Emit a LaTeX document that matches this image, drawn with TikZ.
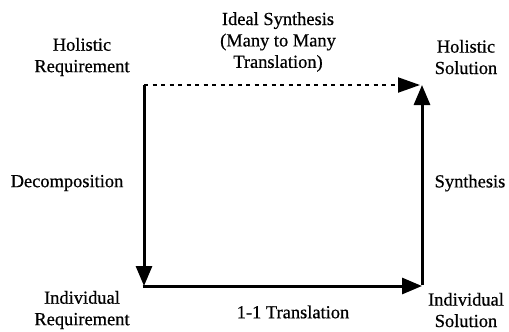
\documentclass[tikz,border=0pt]{standalone}
\usepackage{fontspec}
\setmainfont{Liberation Serif}
\usetikzlibrary{arrows.meta}
\begin{document}
\begin{tikzpicture}[x=1bp,y=-1bp,
  lbl/.style={align=center,font=\fontsize{18.5}{21.5}\selectfont\addfontfeature{FakeBold=0.6},inner sep=0pt},
  flow/.style={line width=3bp,-{Triangle[length=20bp,width=16bp]}},
  ideal/.style={line width=2bp,dash pattern=on 4bp off 4.5bp,-{Triangle[length=22bp,width=15bp]}}]
\useasboundingbox (0,0) rectangle (509,331);
% corners of the transformation square
\coordinate (hr) at (144,85);
\coordinate (ir) at (144,286);
\coordinate (is) at (422,286);
\coordinate (hs) at (422,85);
% labels
\node[lbl] (hrtext) at (82,57) {Holistic\\Requirement};
\node[lbl] (idealtext) at (278,42) {Ideal Synthesis\\(Many to Many\\Translation)};
\node[lbl] (hstext) at (466,57) {Holistic\\Solution};
\node[lbl] (dectext) at (67,183) {Decomposition};
\node[lbl] (syntext) at (470,183) {Synthesis};
\node[lbl] (irtext) at (82,310) {Individual\\Requirement};
\node[lbl] (trtext) at (293,312) {1-1 Translation};
\node[lbl] (istext) at (466,310) {Individual\\Solution};
% arrows
\draw[flow] (hr) -- (ir);
\draw[flow] ([xshift=-1.5bp]ir) -- (is);
\draw[flow] ([yshift=1.5bp]is) -- (hs);
\draw[ideal] (hr) -- ([xshift=-2bp]hs);
\end{tikzpicture}
\end{document}
